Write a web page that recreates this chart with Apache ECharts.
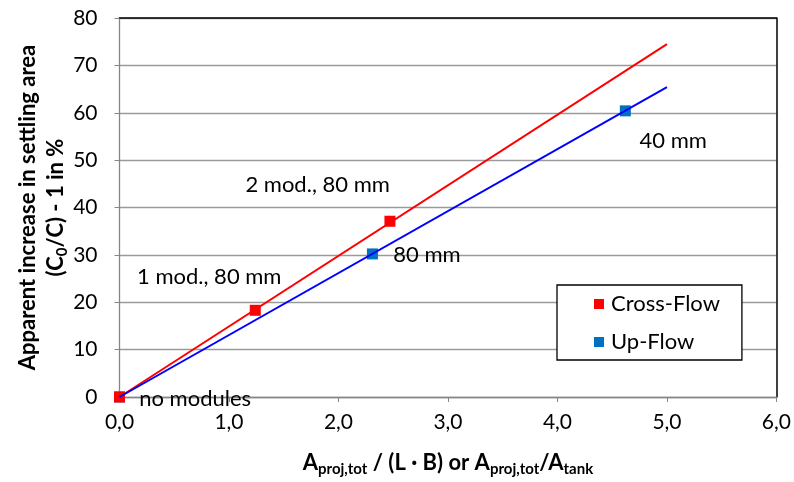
<!DOCTYPE html>
<html lang="en">
<head>
    <meta charset="UTF-8">
    <title>Apparent increase in settling area</title>
    <script src="https://cdn.jsdelivr.net/npm/echarts@6/dist/echarts.min.js" type="text/javascript"></script>
    <style>
        html, body { margin: 0; padding: 0; background: #fff; }
    </style>
</head>
<body>
<div id="chart" style="width: 794px;height:482px;"></div>
</body>

<script type="text/javascript">
    // measured points
    var crossX = [0, 1.24, 2.47];
    var crossY = [0, 18.3, 37.1];
    var upX = [0, 2.31, 4.62];
    var upY = [0, 30.2, 60.4];

    // linear trend lines (through origin)
    var trendX = [0, 5.0];
    var crossTrendY = [0, 74.5];
    var upTrendY = [0, 65.4];

    // annotation texts and where they sit (data units)
    var noteText = ['no modules', '1 mod., 80 mm', '2 mod., 80 mm', '80 mm', '40 mm'];
    var noteX = [0.18, 0.16, 1.15, 2.50, 4.75];
    var noteY = [-0.3, 25.3, 44.7, 29.9, 54.1];

    var FONT = 'Lato';

    function pairs(xs, ys) {
        return xs.map(function (x, i) { return [x, ys[i]]; });
    }

    var chart = echarts.init(document.getElementById('chart'));
    chart.setOption({
        animation: false,
        textStyle: { fontFamily: FONT },
        grid: { left: 119.5, right: 17, top: 18, bottom: 85, containLabel: false },
        legend: {
            data: ['Cross-Flow', 'Up-Flow'],
            orient: 'vertical',
            left: 557,
            top: 285,
            padding: [8, 22, 7, 37],
            itemGap: 16,
            itemWidth: 10,
            itemHeight: 10,
            icon: 'rect',
            borderColor: '#000',
            borderWidth: 1.3,
            backgroundColor: '#fff',
            textStyle: { fontSize: 22, color: '#000', fontFamily: FONT, padding: [0, 0, 0, 2] }
        },
        xAxis: [{
            type: 'value',
            min: 0, max: 6, interval: 1,
            axisLine: { show: true, lineStyle: { color: '#868686', width: 1.3 } },
            axisTick: { show: true, length: 5, lineStyle: { color: '#868686' } },
            splitLine: { show: false },
            axisLabel: {
                fontSize: 21, color: '#000', margin: 15,
                formatter: function (v) { return v.toFixed(1).replace('.', ','); }
            },
            name: '{b|A}{s|proj,tot}{b| / (L · B) or A}{s|proj,tot}{b|/A}{s|tank}',
            nameLocation: 'middle',
            nameGap: 53,
            nameMoveOverlap: false,
            nameTextStyle: {
                rich: {
                    b: { fontSize: 22, fontWeight: 'bold', color: '#000', fontFamily: FONT, lineHeight: 26 },
                    s: { fontSize: 15, fontWeight: 'bold', color: '#000', fontFamily: FONT, lineHeight: 26, padding: [13, 0, 0, 0] }
                }
            }
        }, {
            type: 'value', position: 'top',
            min: 0, max: 6,
            axisLine: { show: true, onZero: false, lineStyle: { color: '#000', width: 1.5 } },
            axisTick: { show: false }, axisLabel: { show: false }, splitLine: { show: false }
        }],
        yAxis: [{
            type: 'value',
            min: 0, max: 80, interval: 10,
            axisLine: { show: true, lineStyle: { color: '#868686', width: 1.3 } },
            axisTick: { show: true, length: 5, lineStyle: { color: '#868686' } },
            splitLine: { show: true, lineStyle: { color: '#9a9a9a', width: 1.3 } },
            axisLabel: { fontSize: 21, color: '#000', margin: 22 },
            name: '{b|Apparent increase in settling area}\n{b|(C}{s|0}{b|/C) - 1 in %}',
            nameLocation: 'middle',
            nameRotate: 90,
            nameGap: 50,
            nameMoveOverlap: false,
            nameTextStyle: {
                rich: {
                    b: { fontSize: 22, fontWeight: 'bold', color: '#000', fontFamily: FONT, lineHeight: 28 },
                    s: { fontSize: 15, fontWeight: 'bold', color: '#000', fontFamily: FONT, lineHeight: 28, padding: [13, 0, 0, 0] }
                }
            }
        }, {
            type: 'value', position: 'right',
            min: 0, max: 80,
            axisLine: { show: true, onZero: false, lineStyle: { color: '#000', width: 1.5 } },
            axisTick: { show: false }, axisLabel: { show: false }, splitLine: { show: false }
        }],
        series: [
            {
                name: 'Cross-Flow trend',
                type: 'line',
                data: pairs(trendX, crossTrendY),
                showSymbol: false,
                lineStyle: { color: '#ff0000', width: 2 },
                silent: true
            },
            {
                name: 'Up-Flow trend',
                type: 'line',
                data: pairs(trendX, upTrendY),
                showSymbol: false,
                lineStyle: { color: '#0000ff', width: 2 },
                silent: true
            },
            {
                name: 'Up-Flow',
                type: 'scatter',
                data: pairs(upX, upY),
                symbol: 'rect',
                symbolSize: 11,
                itemStyle: { color: '#0070c0', opacity: 1 }
            },
            {
                name: 'Cross-Flow',
                type: 'scatter',
                data: pairs(crossX, crossY),
                symbol: 'rect',
                symbolSize: 11,
                itemStyle: { color: '#ff0000', opacity: 1 }
            },
            {
                name: 'notes',
                type: 'scatter',
                clip: false,
                symbolSize: 0,
                silent: true,
                itemStyle: { opacity: 1 },
                data: noteText.map(function (t, i) { return { value: [noteX[i], noteY[i]], name: t }; }),
                label: {
                    show: true,
                    position: 'right',
                    distance: 0,
                    formatter: '{b}',
                    fontSize: 22,
                    color: '#000',
                    opacity: 1,
                    fontFamily: FONT
                }
            }
        ]
    });
</script>
</html>
